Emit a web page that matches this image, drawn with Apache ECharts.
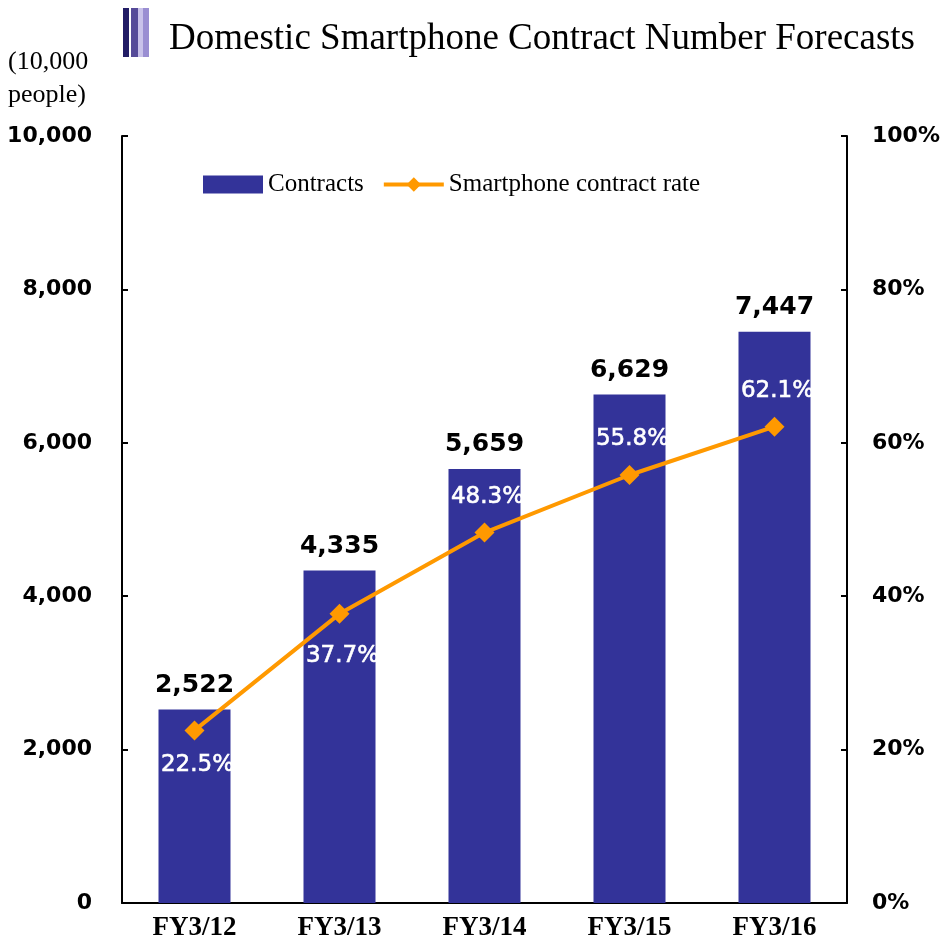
<!DOCTYPE html>
<html>
<head>
<meta charset="utf-8">
<script src="https://cdn.jsdelivr.net/npm/echarts@6/dist/echarts.min.js"></script>
<style>
  html, body { margin: 0; padding: 0; background: #fff; }
  #chart { width: 949px; height: 944px; }
</style>
</head>
<body>
<div id="chart"></div>
<script>
const categories = ["FY3/12", "FY3/13", "FY3/14", "FY3/15", "FY3/16"];
const contracts = [2522, 4335, 5659, 6629, 7447];
const contractRate = [22.5, 37.7, 48.3, 55.8, 62.1];
// where the white % label sits relative to its point
const rateLabelPos = ["bottom", "bottom", "top", "top", "top"];
const rateLabelGap = [13, 21, 14, 14, 14];

const serif = "'Liberation Serif', 'Times New Roman', serif";
const sans = "'DejaVu Sans', Arial, sans-serif";

const chart = echarts.init(document.getElementById("chart"));

chart.setOption({
  animation: false,
  title: {
    text: "Domestic Smartphone Contract Number Forecasts",
    left: 164,
    top: 16,
    textStyle: { fontFamily: serif, fontWeight: "normal", fontSize: 37, color: "#000" },
  },
  graphic: [
    // title marker bars
    { type: "rect", shape: { x: 123, y: 8, width: 6, height: 49 }, style: { fill: "#221d66" } },
    { type: "rect", shape: { x: 131, y: 8, width: 7, height: 49 }, style: { fill: "#564b99" } },
    { type: "rect", shape: { x: 138, y: 8, width: 5, height: 49 }, style: { fill: "#c9c2ea" } },
    { type: "rect", shape: { x: 143, y: 8, width: 6, height: 49 }, style: { fill: "#9a8ed2" } },
    {
      type: "text",
      left: 8,
      top: 46,
      style: {
        text: "(10,000\npeople)",
        font: "26px " + serif,
        lineHeight: 33,
        fill: "#000",
      },
    },
  ],
  legend: {
    left: 198,
    top: 167,
    itemWidth: 60,
    itemHeight: 18,
    itemGap: 18,
    lineStyle: { width: 4 },
    textStyle: { fontFamily: serif, fontSize: 25, color: "#000" },
    data: [
      { name: "Contracts", icon: "rect" },
      { name: "Smartphone contract rate", lineStyle: { width: 4 } },
    ],
  },
  grid: { left: 122, right: 102, top: 136, bottom: 41 },
  xAxis: {
    type: "category",
    data: categories,
    axisLine: { lineStyle: { color: "#000", width: 2 } },
    axisTick: { inside: true, length: 6, lineStyle: { color: "#000", width: 2 } },
    axisLabel: {
      margin: 12,
      fontFamily: serif,
      fontWeight: "bold",
      fontSize: 27,
      color: "#000",
    },
  },
  yAxis: [
    {
      type: "value",
      min: 0,
      max: 10000,
      interval: 2000,
      axisLine: { show: true, lineStyle: { color: "#000", width: 2 } },
      axisTick: { show: true, inside: true, length: 6, lineStyle: { color: "#000", width: 2 } },
      splitLine: { show: false },
      axisLabel: {
        margin: 30,
        fontFamily: sans,
        fontWeight: "bold",
        fontSize: 22,
        color: "#000",
        formatter: (v) => v.toLocaleString("en-US"),
      },
    },
    {
      type: "value",
      min: 0,
      max: 100,
      interval: 20,
      axisLine: { show: true, lineStyle: { color: "#000", width: 2 } },
      axisTick: { show: true, inside: true, length: 6, lineStyle: { color: "#000", width: 2 } },
      splitLine: { show: false },
      axisLabel: {
        margin: 25,
        fontFamily: sans,
        fontWeight: "bold",
        fontSize: 22,
        color: "#000",
        formatter: "{value}%",
      },
    },
  ],
  series: [
    {
      name: "Contracts",
      type: "bar",
      data: contracts,
      barWidth: 72,
      itemStyle: { color: "#333399" },
      label: {
        show: true,
        position: "top",
        distance: 12,
        fontFamily: sans,
        fontWeight: "bold",
        fontSize: 25,
        color: "#000",
        formatter: (p) => p.value.toLocaleString("en-US"),
      },
    },
    {
      name: "Smartphone contract rate",
      type: "line",
      yAxisIndex: 1,
      data: contractRate.map((v, i) => ({
        value: v,
        label: { position: rateLabelPos[i], distance: rateLabelGap[i] },
      })),
      color: "#ff9900",
      lineStyle: { width: 4, color: "#ff9900" },
      symbol: "diamond",
      symbolSize: 20,
      itemStyle: { color: "#ff9900" },
      z: 3,
      label: {
        show: true,
        offset: [3, 0],
        fontFamily: sans,
        fontSize: 23,
        color: "#fff",
        textBorderColor: "#fff",
        textBorderWidth: 0.6,
        formatter: (p) => p.value + "%",
      },
    },
  ],
});
</script>
</body>
</html>
